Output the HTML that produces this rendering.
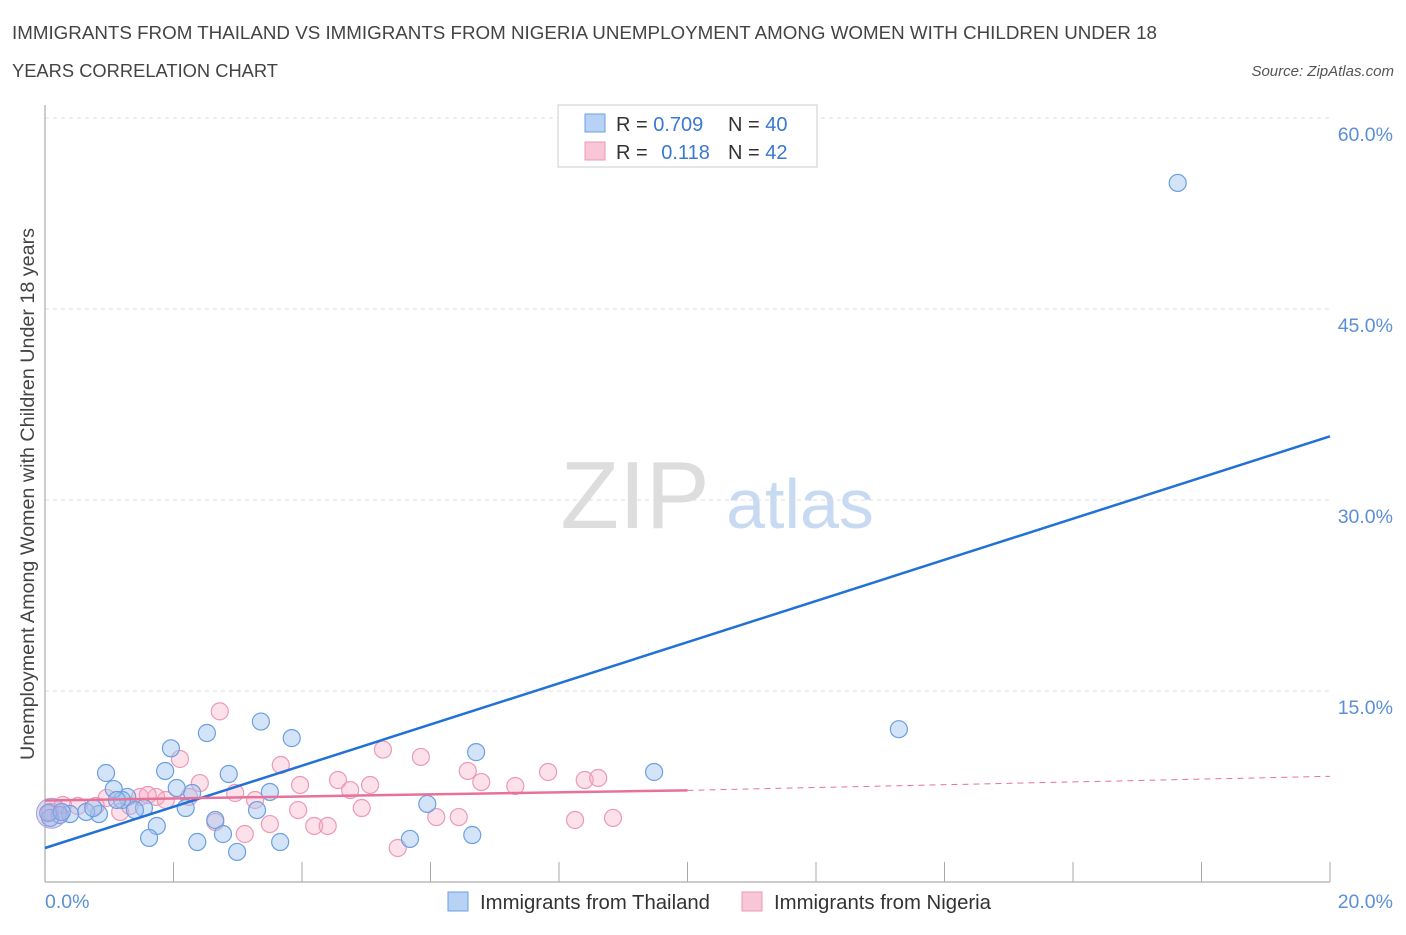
<!DOCTYPE html>
<html><head><meta charset="utf-8"><style>
body{margin:0;background:#fff;font-family:"Liberation Sans",sans-serif;}
svg text{font-family:"Liberation Sans",sans-serif;}
</style></head><body>
<svg id="chart" width="1406" height="930" viewBox="0 0 1406 930">
<text x="12" y="39" font-size="18" fill="#444" textLength="1145" lengthAdjust="spacingAndGlyphs">IMMIGRANTS FROM THAILAND VS IMMIGRANTS FROM NIGERIA UNEMPLOYMENT AMONG WOMEN WITH CHILDREN UNDER 18</text>
<text x="12" y="77" font-size="18" fill="#444" textLength="266" lengthAdjust="spacingAndGlyphs">YEARS CORRELATION CHART</text>
<text x="1394" y="76" font-size="15" font-style="italic" fill="#555" text-anchor="end">Source: ZipAtlas.com</text>
<text x="635" y="528" font-size="96" font-family="Liberation Serif" fill="#ddd" text-anchor="middle">ZIP</text>
<text x="800" y="528" font-size="70" fill="#c8daf2" text-anchor="middle">atlas</text>
<text transform="translate(34,494) rotate(-90)" font-size="19" fill="#444" text-anchor="middle" textLength="532" lengthAdjust="spacingAndGlyphs">Unemployment Among Women with Children Under 18 years</text>
<g id="grid"></g><g id="marks"></g>
<g>
<rect x="558" y="105" width="259" height="62" fill="#fff" stroke="#ccc"/>
<rect x="585" y="114" width="20" height="18" fill="#b8d2f5" stroke="#6a9fe0"/>
<rect x="585" y="142" width="20" height="18" fill="#f8c6d6" stroke="#ec9ab4"/>
<text x="616" y="131" font-size="20" fill="#333">R = <tspan fill="#3b78d0">0.709</tspan></text>
<text x="728" y="131" font-size="20" fill="#333">N = <tspan fill="#3b78d0">40</tspan></text>
<text x="616" y="159" font-size="20" fill="#333">R =  <tspan fill="#3b78d0" dx="8">0.118</tspan></text>
<text x="728" y="159" font-size="20" fill="#333">N =  <tspan fill="#3b78d0">42</tspan></text>
</g>
<g>
<rect x="448" y="892" width="20" height="19" fill="#b8d2f5" stroke="#6a9fe0"/>
<text x="480" y="909" font-size="20" fill="#333" textLength="230" lengthAdjust="spacingAndGlyphs">Immigrants from Thailand</text>
<rect x="742" y="892" width="20" height="19" fill="#f8c6d6" stroke="#ec9ab4"/>
<text x="774" y="909" font-size="20" fill="#333" textLength="217" lengthAdjust="spacingAndGlyphs">Immigrants from Nigeria</text>
</g>
</svg>
<script>
const thaiX=[17.63,13.29,9.48,6.71,6.65,5.68,5.95,3.84,3.36,3.50,3.30,3.66,2.99,2.77,2.86,2.65,2.52,2.29,2.19,2.37,1.96,1.87,2.05,1.74,1.62,1.54,1.28,1.20,0.95,1.07,0.84,0.64,0.39,0.23,0.08,0.05,1.40,1.12,0.26,0.75];
const thaiY=[54.9,12.0,8.64,10.2,3.69,3.38,6.13,11.3,12.6,7.07,5.65,3.14,2.36,3.77,8.48,4.87,11.7,6.99,5.81,3.14,10.5,8.72,7.38,4.40,3.46,5.81,6.68,6.44,8.56,7.30,5.34,5.50,5.34,5.26,5.03,5.42,5.65,6.44,5.50,5.81];
const nigX=[2.72,2.10,2.41,2.24,2.65,2.96,3.11,3.27,3.50,3.67,3.97,3.94,4.19,4.40,4.56,4.75,4.93,5.06,5.26,5.49,5.85,6.09,6.44,6.58,6.79,7.32,7.83,8.25,8.40,8.61,8.84,1.73,1.88,1.48,1.17,0.96,0.79,0.51,0.28,0.08,1.32,1.60];
const nigY=[13.4,9.66,7.77,6.68,4.71,6.99,3.77,6.44,4.55,9.19,7.62,5.65,4.40,4.40,8.01,7.22,5.81,7.62,10.4,2.67,9.82,5.10,5.10,8.72,7.85,7.54,8.64,4.87,8.01,8.17,5.03,6.68,6.44,6.68,5.50,6.60,5.97,5.97,6.05,5.50,5.97,6.83];
const thaiTrend=[2.67,35.0];
const nigTrend=[6.4,7.2,8.3];
const yTicks=[15,30,45,60];
const xTickLabels=["0.0%","20.0%"];
const X=v=>45+v/20*1285, Y=v=>882-v/15*191;
const NS="http://www.w3.org/2000/svg";
const grid=document.getElementById('grid'), marks=document.getElementById('marks');
function mk(tag,attrs,parent){const e=document.createElementNS(NS,tag);for(const k in attrs)e.setAttribute(k,attrs[k]);parent.appendChild(e);return e;}
yTicks.forEach(t=>{
 const l=mk('line',{x1:45,x2:1330,y1:Y(t),y2:Y(t),stroke:'#ddd','stroke-dasharray':'4,4'},grid);
 
 
 const tx=mk('text',{x:1393,y:Y(t)+23,'font-size':19.5,fill:'#5b8fd6','text-anchor':'end'},grid);
 tx.textContent=t.toFixed(1)+'%';
 
 
});
const ax=mk('line',{x1:45,x2:45,y1:105,y2:882,stroke:'#999'},grid);


const bx=mk('line',{x1:45,x2:1330,y1:882,y2:882,stroke:'#999'},grid);


for(let i=1;i<=10;i++){const t=mk('line',{x1:X(i*2),x2:X(i*2),y1:862,y2:882,stroke:'#aaa'},grid);
 
 }
[[0,'start',45],[20,'end',1393]].forEach((d,i)=>{const t=mk('text',{x:d[2],y:908,'font-size':19.5,fill:'#5b8fd6','text-anchor':d[1]},grid);t.textContent=xTickLabels[i];
 
 });
nigX.forEach((x,i)=>{const c=mk('circle',{cx:X(x),cy:Y(nigY[i]),r:8.5,fill:'rgba(245,170,195,0.35)',stroke:'#ec9ab4','stroke-width':1.2},marks);
 
 });
thaiX.forEach((x,i)=>{const c=mk('circle',{cx:X(x),cy:Y(thaiY[i]),r:8.5,fill:'rgba(160,196,240,0.45)',stroke:'#6a9fe0','stroke-width':1.2},marks);
 
 });
const big=mk('circle',{cx:X(0.1),cy:Y(5.4),r:15,fill:'rgba(170,160,220,0.4)',stroke:'#a99fd8'},marks);


const tl=mk('line',{x1:X(0),y1:Y(thaiTrend[0]),x2:X(20),y2:Y(thaiTrend[1]),stroke:'#2271d6','stroke-width':2.5},marks);


const nl=mk('line',{x1:X(0),y1:Y(nigTrend[0]),x2:X(10),y2:Y(nigTrend[1]),stroke:'#e8719a','stroke-width':2.5},marks);


const nd=mk('line',{x1:X(10),y1:Y(nigTrend[1]),x2:X(20),y2:Y(nigTrend[2]),stroke:'#e8719a','stroke-width':1,'stroke-dasharray':'6,5'},marks);


</script>
</body></html>
